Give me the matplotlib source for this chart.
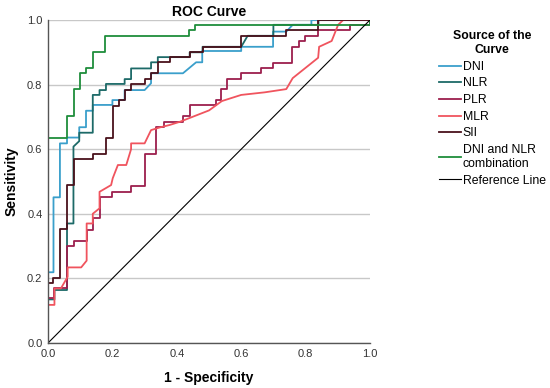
import matplotlib
matplotlib.use('Agg')
import matplotlib.pyplot as plt

plt.rcParams['font.family'] = ['Liberation Sans', 'DejaVu Sans']

# ROC step curves: (1 - specificity, sensitivity)
dni_x = [0, 0, 0.017, 0.017, 0.037, 0.037, 0.059, 0.059, 0.097, 0.097, 0.118, 0.118, 0.139, 0.139,
         0.2, 0.2, 0.238, 0.238, 0.30, 0.32, 0.32, 0.419, 0.46, 0.479, 0.479, 0.6, 0.6, 0.699, 0.699,
         0.74, 0.76, 0.818, 0.818, 1.0]
dni_y = [0, 0.219, 0.219, 0.451, 0.451, 0.618, 0.618, 0.636, 0.636, 0.668, 0.668, 0.719, 0.719, 0.737,
         0.737, 0.752, 0.752, 0.783, 0.783, 0.804, 0.835, 0.835, 0.869, 0.869, 0.904, 0.904, 0.917,
         0.917, 0.964, 0.964, 0.985, 0.985, 1.0, 1.0]

nlr_x = [0, 0, 0.02, 0.02, 0.059, 0.059, 0.079, 0.079, 0.097, 0.097, 0.139, 0.139, 0.16, 0.16, 0.18,
         0.18, 0.238, 0.238, 0.258, 0.258, 0.32, 0.32, 0.341, 0.341, 0.44, 0.44, 0.48, 0.48, 0.6, 0.62,
         0.70, 0.70, 0.84, 0.84, 1.0]
nlr_y = [0, 0.135, 0.135, 0.164, 0.164, 0.37, 0.37, 0.608, 0.625, 0.651, 0.651, 0.768, 0.768, 0.783,
         0.783, 0.802, 0.802, 0.817, 0.817, 0.85, 0.85, 0.869, 0.869, 0.885, 0.885, 0.9, 0.9, 0.917,
         0.917, 0.951, 0.951, 0.985, 0.985, 1.0, 1.0]

plr_x = [0, 0, 0.02, 0.02, 0.06, 0.06, 0.08, 0.08, 0.12, 0.12, 0.14, 0.14, 0.16, 0.16, 0.2, 0.2,
         0.258, 0.258, 0.30, 0.30, 0.336, 0.336, 0.36, 0.36, 0.419, 0.419, 0.44, 0.44, 0.521, 0.521,
         0.538, 0.538, 0.557, 0.557, 0.599, 0.599, 0.661, 0.661, 0.699, 0.699, 0.759, 0.759, 0.78,
         0.78, 0.798, 0.798, 0.839, 0.839, 0.938, 0.938, 1.0, 1.0]
plr_y = [0, 0.14, 0.14, 0.17, 0.17, 0.30, 0.30, 0.317, 0.317, 0.35, 0.35, 0.386, 0.386, 0.453,
         0.453, 0.468, 0.468, 0.486, 0.486, 0.585, 0.585, 0.668, 0.668, 0.685, 0.685, 0.703, 0.703,
         0.737, 0.737, 0.752, 0.752, 0.786, 0.786, 0.817, 0.817, 0.835, 0.835, 0.852, 0.852, 0.868,
         0.868, 0.917, 0.917, 0.935, 0.935, 0.951, 0.951, 0.969, 0.969, 0.985, 0.985, 1.0]

mlr_x = [0, 0, 0.02, 0.02, 0.04, 0.061, 0.061, 0.103, 0.12, 0.12, 0.139, 0.139, 0.16, 0.16, 0.196,
         0.201, 0.217, 0.243, 0.258, 0.258, 0.30, 0.32, 0.346, 0.378, 0.41, 0.50, 0.54, 0.6, 0.673,
         0.74, 0.76, 0.839, 0.842, 0.881, 0.901, 0.917, 1.0]
mlr_y = [0, 0.118, 0.118, 0.169, 0.169, 0.205, 0.234, 0.234, 0.255, 0.37, 0.37, 0.40, 0.417, 0.468,
         0.489, 0.51, 0.551, 0.551, 0.60, 0.618, 0.618, 0.659, 0.667, 0.675, 0.685, 0.72, 0.749,
         0.768, 0.776, 0.786, 0.82, 0.883, 0.917, 0.935, 0.985, 1.0, 1.0]

sii_x = [0, 0, 0.017, 0.017, 0.038, 0.038, 0.059, 0.059, 0.08, 0.08, 0.139, 0.139, 0.18, 0.18, 0.201,
         0.201, 0.22, 0.22, 0.238, 0.238, 0.258, 0.258, 0.30, 0.30, 0.32, 0.32, 0.341, 0.341, 0.378,
         0.378, 0.44, 0.44, 0.48, 0.48, 0.6, 0.6, 0.74, 0.74, 0.84, 0.84, 1.0]
sii_y = [0, 0.185, 0.185, 0.2, 0.2, 0.352, 0.352, 0.489, 0.489, 0.569, 0.569, 0.585, 0.585, 0.636,
         0.636, 0.734, 0.734, 0.752, 0.752, 0.783, 0.783, 0.802, 0.802, 0.817, 0.817, 0.837, 0.837,
         0.869, 0.869, 0.885, 0.885, 0.9, 0.9, 0.917, 0.917, 0.951, 0.951, 0.969, 0.969, 1.0, 1.0]

comb_x = [0, 0, 0.059, 0.059, 0.08, 0.08, 0.10, 0.10, 0.118, 0.118, 0.141, 0.141, 0.178, 0.178,
          0.438, 0.438, 0.458, 0.458, 1.0, 1.0]
comb_y = [0, 0.636, 0.636, 0.703, 0.703, 0.786, 0.786, 0.835, 0.835, 0.852, 0.852, 0.90, 0.90,
          0.951, 0.951, 0.969, 0.969, 0.985, 0.985, 1.0]

ref_x = [0, 1]
ref_y = [0, 1]

fig = plt.figure(figsize=(5.5, 3.88), dpi=100)
ax = fig.add_axes([0.0873, 0.116, 0.5854, 0.8325])

ax.plot(dni_x, dni_y, color='#3a9fcb', lw=1.3, label='DNI')
ax.plot(nlr_x, nlr_y, color='#1d6a68', lw=1.3, label='NLR')
ax.plot(plr_x, plr_y, color='#9c1f4d', lw=1.3, label='PLR')
ax.plot(mlr_x, mlr_y, color='#f0545e', lw=1.3, label='MLR')
ax.plot(sii_x, sii_y, color='#4a111b', lw=1.3, label='SII')
ax.plot(comb_x, comb_y, color='#1f8d3b', lw=1.3, label='DNI and NLR\ncombination')
ax.plot(ref_x, ref_y, color='black', lw=0.8, label='Reference Line')

ax.set_xlim(0, 1)
ax.set_ylim(0, 1)
ax.set_xticks([0, 0.2, 0.4, 0.6, 0.8, 1.0])
ax.set_yticks([0, 0.2, 0.4, 0.6, 0.8, 1.0])
ax.set_xticklabels(['0.0', '0.2', '0.4', '0.6', '0.8', '1.0'])
ax.set_yticklabels(['0.0', '0.2', '0.4', '0.6', '0.8', '1.0'])
ax.tick_params(length=0, labelsize=8, colors='#333333', pad=4)
ax.yaxis.grid(True, color='#c8c8c8', lw=1)
ax.set_axisbelow(True)
for s in ['top', 'right']:
    ax.spines[s].set_visible(False)
for s in ['left', 'bottom']:
    ax.spines[s].set_color('#555555')
    ax.spines[s].set_linewidth(1)

ax.set_title('ROC Curve', fontsize=10, fontweight='bold', pad=3)
ax.set_xlabel('1 - Specificity', fontsize=10, fontweight='bold', labelpad=9)
ax.set_ylabel('Sensitivity', fontsize=10, fontweight='bold', labelpad=6)

leg = fig.legend(loc='upper left', bbox_to_anchor=(0.778, 0.95), frameon=False,
                 title='Source of the\nCurve', fontsize=8.8, title_fontsize=8.8,
                 handlelength=1.8, handletextpad=0.15, labelspacing=0.38, alignment='center')
leg.get_title().set_fontweight('bold')
leg.get_title().set_multialignment('center')

fig.savefig('out.png', dpi=100)
